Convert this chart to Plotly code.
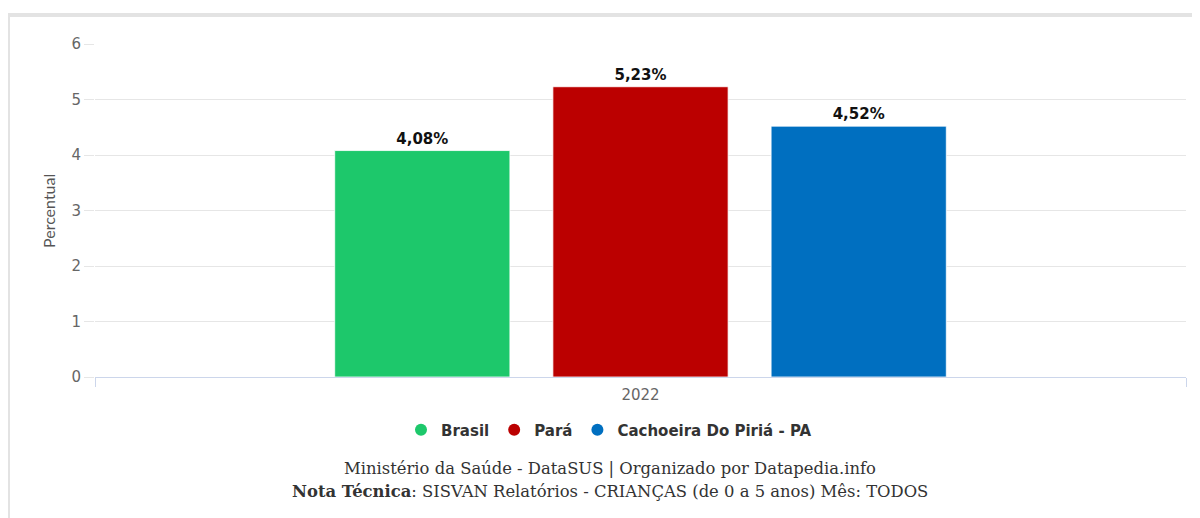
import plotly.graph_objects as go

categories = ["2022"]
series_names = ["Brasil", "Pará", "Cachoeira Do Piriá - PA"]
series_values = [[4.08], [5.23], [4.52]]
series_colors = ["#1dc86b", "#bb0000", "#006fc0"]
y_ticks = [0, 1, 2, 3, 4, 5, 6]

OFF = 8  # page body margin
W, H = 1192, 510
# plot area in screen pixels: x 95..1186, y 44..377
L = 95 - OFF
T = 44 - OFF
R = W - (1186 - OFF)
B = H - (377 - OFF)
pw, ph = W - L - R, H - T - B


def px_x(p):
    return (p - OFF - L) / pw


def px_y(p):
    return (H - B - (p - OFF)) / ph


sans_b = "DejaVu Sans, Noto Sans, sans-serif"
sans = "Lato, Noto Sans, sans-serif"

fig = go.Figure()
for name, vals, col in zip(series_names, series_values, series_colors):
    fig.add_trace(go.Bar(
        x=categories, y=vals, name=name, showlegend=False,
        marker=dict(color=col, line=dict(color="rgba(255,255,255,0.8)", width=1)),
        texttemplate="<b>%{y:.2f}%</b>", textposition="outside",
        textfont=dict(family=sans_b, size=15, color="#111111"),
        cliponaxis=False,
    ))
for name, col in zip(series_names, series_colors):
    fig.add_trace(go.Scatter(
        x=[None], y=[None], mode="markers", name=name,
        marker=dict(symbol="circle", size=19, color=col),
    ))

fig.update_layout(
    width=W, height=H,
    margin=dict(l=L, r=R, t=T, b=B, autoexpand=False),
    paper_bgcolor="white", plot_bgcolor="white",
    separators=",.",
    barmode="group", bargap=0.4, bargroupgap=0.197,
    font=dict(family=sans, color="#666666"),
    legend=dict(
        orientation="h", x=px_x(609), xanchor="center", y=px_y(430), yanchor="middle",
        font=dict(family=sans_b, size=15, color="#333333", weight="bold"),
        itemsizing="constant", itemwidth=30, tracegroupgap=0,
    ),
    xaxis=dict(
        type="category", showgrid=False, showline=True, linecolor="#ccd6eb", linewidth=1,
        ticks="outside", tickson="boundaries", ticklen=9, tickcolor="#ccd6eb",
        ticklabelstandoff=4,
        tickfont=dict(family=sans_b, size=15, color="#666666"), zeroline=False, fixedrange=True,
    ),
    yaxis=dict(
        range=[0, 6], tickvals=y_ticks, showgrid=True, gridcolor="#e6e6e6",
        zeroline=False, showline=False, ticks="outside", ticklen=10, tickcolor="#e6e6e6",
        tickfont=dict(family=sans_b, size=15, color="#666666"),
    ),
    showlegend=True,
)

fig.add_annotation(
    xref="paper", yref="paper", x=px_x(48), y=px_y(211), text="Percentual",
    textangle=-90, showarrow=False, font=dict(family=sans, size=16, color="#555555"),
    xanchor="center", yanchor="middle",
)
serif = "DejaVu Serif, Liberation Serif, serif"
fig.add_annotation(
    xref="paper", yref="paper", x=px_x(610), y=px_y(468),
    text="Ministério da Saúde - DataSUS | Organizado por Datapedia.info",
    showarrow=False, font=dict(family=serif, size=16.4, color="#333333"),
    xanchor="center", yanchor="middle",
)
fig.add_annotation(
    xref="paper", yref="paper", x=px_x(610), y=px_y(492),
    text="<b>Nota Técnica</b>: SISVAN Relatórios - CRIANÇAS (de 0 a 5 anos) Mês: TODOS",
    showarrow=False, font=dict(family=serif, size=16.4, color="#333333"),
    xanchor="center", yanchor="middle",
)
# container border (top and left)
fig.add_shape(type="rect", xref="paper", yref="paper",
              x0=px_x(8), x1=px_x(1200), y0=px_y(13), y1=px_y(17),
              fillcolor="#e3e3e3", line=dict(width=0), layer="below")
fig.add_shape(type="rect", xref="paper", yref="paper",
              x0=px_x(8), x1=px_x(10), y0=px_y(13), y1=px_y(518),
              fillcolor="#e3e3e3", line=dict(width=0), layer="below")

fig.write_html("out.html")
